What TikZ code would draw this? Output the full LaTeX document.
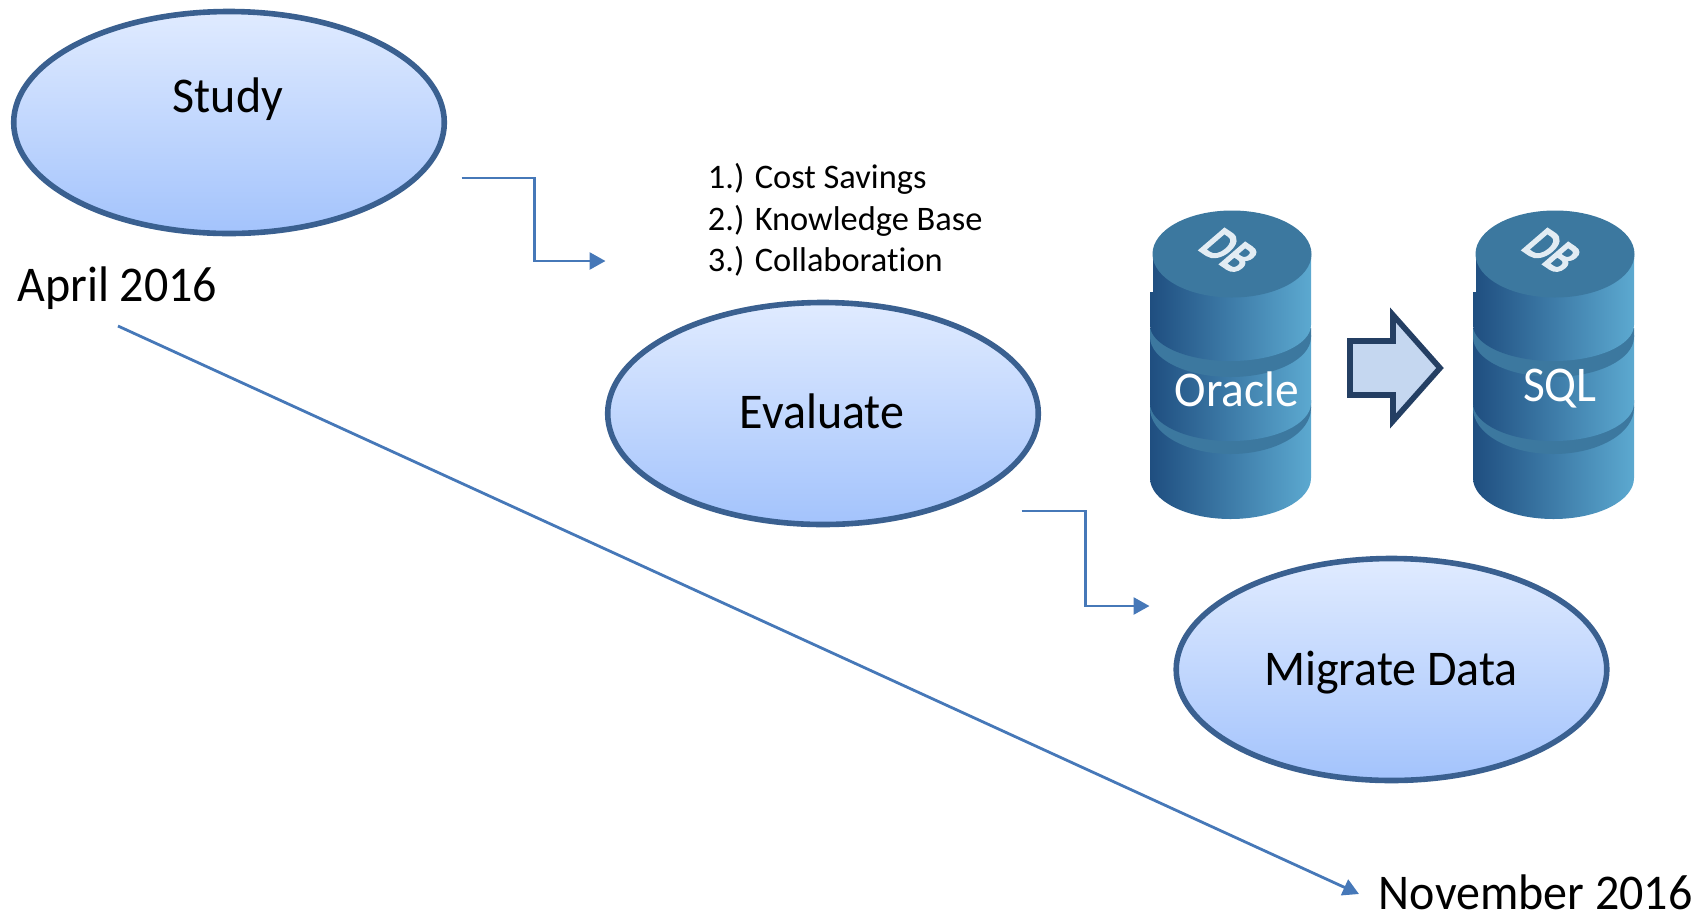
\documentclass[tikz,border=0pt]{standalone}
\usepackage{fontspec}
\setmainfont[Ligatures=NoCommon]{Carlito}
\newfontfamily\dbfont[FakeBold=4.5]{Carlito}
\usetikzlibrary{shapes.geometric,arrows.meta}
\definecolor{ellline}{HTML}{3A6090}
\definecolor{elltop}{HTML}{E0EBFF}
\definecolor{ellbot}{HTML}{A3C3FC}
\definecolor{conn}{HTML}{4678B8}
\definecolor{cylL}{HTML}{1F4E80}
\definecolor{cylR}{HTML}{5CA9D0}
\definecolor{cylT}{HTML}{3C789F}
\definecolor{dbtxt}{HTML}{E2ECF3}
\definecolor{arrline}{HTML}{243F63}
\definecolor{arrfill}{HTML}{C5D7F0}
\tikzset{
  x=0.5pt,y=-0.5pt,
  phase/.style={ellipse,draw=ellline,line width=2.8pt,top color=elltop,bottom color=ellbot,
    minimum width=215.3pt,minimum height=111pt,inner sep=0pt},
  big/.style={font=\fontsize{25}{30}\selectfont,text=black,inner sep=0pt,xscale=0.96},
  small/.style={font=\fontsize{17.2}{20}\selectfont,text=black,inner sep=0pt,anchor=base west},
  cyltext/.style={font=\fontsize{25}{30}\selectfont,text=white,inner sep=0pt,anchor=base,xscale=0.95},
  link/.style={draw=conn,line width=1.4pt,-{Triangle[length=8pt,width=8.5pt]}},
  cylbody/.style={left color=cylL,right color=cylR},
  pics/dbcyl/.style={code={
    \path[cylbody] (-83,407) -- (-83,478) arc[start angle=180,end angle=0,x radius=80.5,y radius=41] -- (78,407) -- cycle;
    \fill[cylT] (-83,400) -- (-83,408) arc[start angle=180,end angle=0,x radius=80.5,y radius=46] -- (78,400) -- cycle;
    \path[cylbody] (-83,335) -- (-83,403) arc[start angle=180,end angle=0,x radius=80.5,y radius=38] -- (78,335) -- cycle;
    \fill[cylT] (-83,328) -- (-83,337) arc[start angle=180,end angle=0,x radius=80.5,y radius=40] -- (78,328) -- cycle;
    \path[cylbody] (-80,254) -- (-80,292) -- (-83,292) -- (-83,325) arc[start angle=180,end angle=0,x radius=80.5,y radius=36] -- (78,254) -- cycle;
    \fill[cylT] (-1,254) ellipse[x radius=79.5,y radius=43.5];
    \node[font=\dbfont\fontsize{27}{30}\selectfont,text=dbtxt,inner sep=0pt,cm={0.62,-0.42,0.72,0.62,(0,0)}] (-label) at (-4,251) {DB};
  }}
}
\begin{document}
\begin{tikzpicture}
\useasboundingbox (0,0) rectangle (1705,912);

\node[phase] (study) at (229,122.5) {};
\node[phase] (evaluate) at (823,413.5) {};
\node[phase] (migrate) at (1391.5,669.5) {};

\node[big,anchor=base] (studytext) at (228,112) {Study};
\node[big,anchor=base] (evaltext) at (822,428) {Evaluate};
\node[big,anchor=base] (migtext) at (1391,685) {Migrate Data};

\node[big,anchor=base west] (april) at (17,301) {April 2016};
\node[big,anchor=base west] (november) at (1378.5,909) {November 2016};

\node[small] (item1) at (707.5,188) {1.) Cost Savings};
\node[small] (item2) at (707.5,230) {2.) Knowledge Base};
\node[small] (item3) at (707.5,271) {3.) Collaboration};

\pic (oracledb) at (1233,0) {dbcyl};
\pic (sqldb) at (1556,0) {dbcyl};
\node[cyltext] (oracle) at (1237,406) {Oracle};
\node[cyltext] (sql) at (1560,401) {SQL};

\draw[line width=2.8pt,draw=arrline,fill=arrfill,miter limit=10]
  (1350,341) -- (1393,341) -- (1393,315) -- (1440,368) -- (1393,421) -- (1393,395) -- (1350,395) -- cycle;

\coordinate (a1) at (461.5,178);
\coordinate (a2) at (605.5,261);
\coordinate (b1) at (1021.5,511);
\coordinate (b2) at (1149.5,606);
\coordinate (c1) at (118,326);
\coordinate (c2) at (1359,894);
\draw[link] (a1) -| (534.5,261) -- (a2);
\draw[link] (b1) -| (1085.5,606) -- (b2);
\draw[link] (c1) -- (c2);
\end{tikzpicture}
\end{document}
